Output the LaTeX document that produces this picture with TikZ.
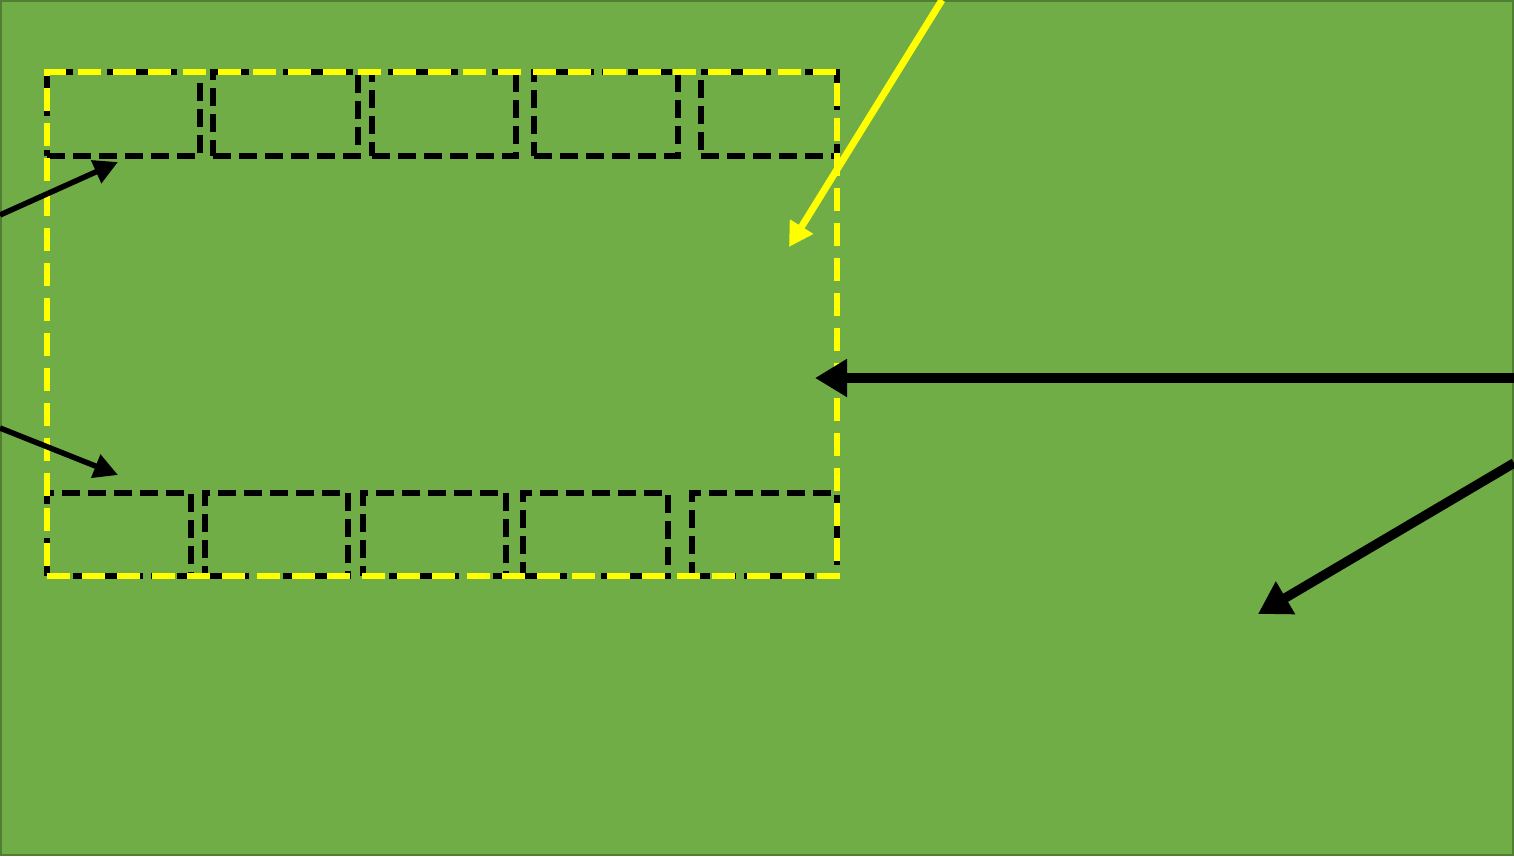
\documentclass[tikz,border=0pt]{standalone}
\usetikzlibrary{arrows.meta}
\definecolor{bgreen}{HTML}{70AD47}
\definecolor{dgreen}{HTML}{507E32}
\definecolor{yel}{HTML}{FFFF00}
\tikzset{
  cellbox/.style={draw=black, line width=5.5pt, dash pattern=on 18pt off 8pt, inner sep=0pt, outer sep=0pt, anchor=north west, minimum height=84pt},
  outerbox/.style={draw=yel, line width=5.5pt, dash pattern=on 23pt off 12pt, inner sep=0pt, outer sep=0pt, anchor=north west},
  thinarrow/.style={draw=black, line width=5.5pt, -{Triangle[length=24pt,width=24pt]}},
  thickarrow/.style={draw=black, line width=9.5pt, -{Triangle[length=32pt,width=36pt]}},
  yelarrow/.style={draw=yel, line width=7pt, -{Triangle[length=24pt,width=26pt]}}
}
\begin{document}
\begin{tikzpicture}[x=1pt,y=-1pt]
\useasboundingbox (0,0) rectangle (1514,856);
\fill[bgreen] (0,0) rectangle (1514,856);
\draw[dgreen, line width=2pt] (1,1) rectangle (1513,855);
% top row
\node[cellbox, minimum width=153pt] (t1) at (47,72) {};
\node[cellbox, minimum width=145pt] (t2) at (213,72) {};
\node[cellbox, minimum width=144pt] (t3) at (372,72) {};
\node[cellbox, minimum width=144pt] (t4) at (534,72) {};
\node[cellbox, minimum width=136pt] (t5) at (701,72) {};
% bottom row
\node[cellbox, minimum width=144pt, minimum height=83pt] (b1) at (47,493) {};
\node[cellbox, minimum width=143pt, minimum height=83pt] (b2) at (205,493) {};
\node[cellbox, minimum width=143pt, minimum height=83pt] (b3) at (363,493) {};
\node[cellbox, minimum width=145pt, minimum height=83pt] (b4) at (523,493) {};
\node[cellbox, minimum width=145pt, minimum height=83pt] (b5) at (692,493) {};
% outer yellow
\node[outerbox, minimum width=790pt, minimum height=504pt] (outer) at (47,72) {};
% arrows
\coordinate (a1s) at (0,215);   \coordinate (a1e) at (118,162);
\coordinate (a2s) at (0,428);   \coordinate (a2e) at (118,475);
\coordinate (ys) at (942,0);    \coordinate (ye) at (789,247);
\coordinate (hs) at (1514,378); \coordinate (he) at (815,378);
\coordinate (ds) at (1514,463); \coordinate (de) at (1258,614);
\draw[thinarrow] (a1s) -- (a1e);
\draw[thinarrow] (a2s) -- (a2e);
\draw[yelarrow] (ys) -- (ye);
\draw[thickarrow] (hs) -- (he);
\draw[thickarrow] (ds) -- (de);
\end{tikzpicture}
\end{document}
